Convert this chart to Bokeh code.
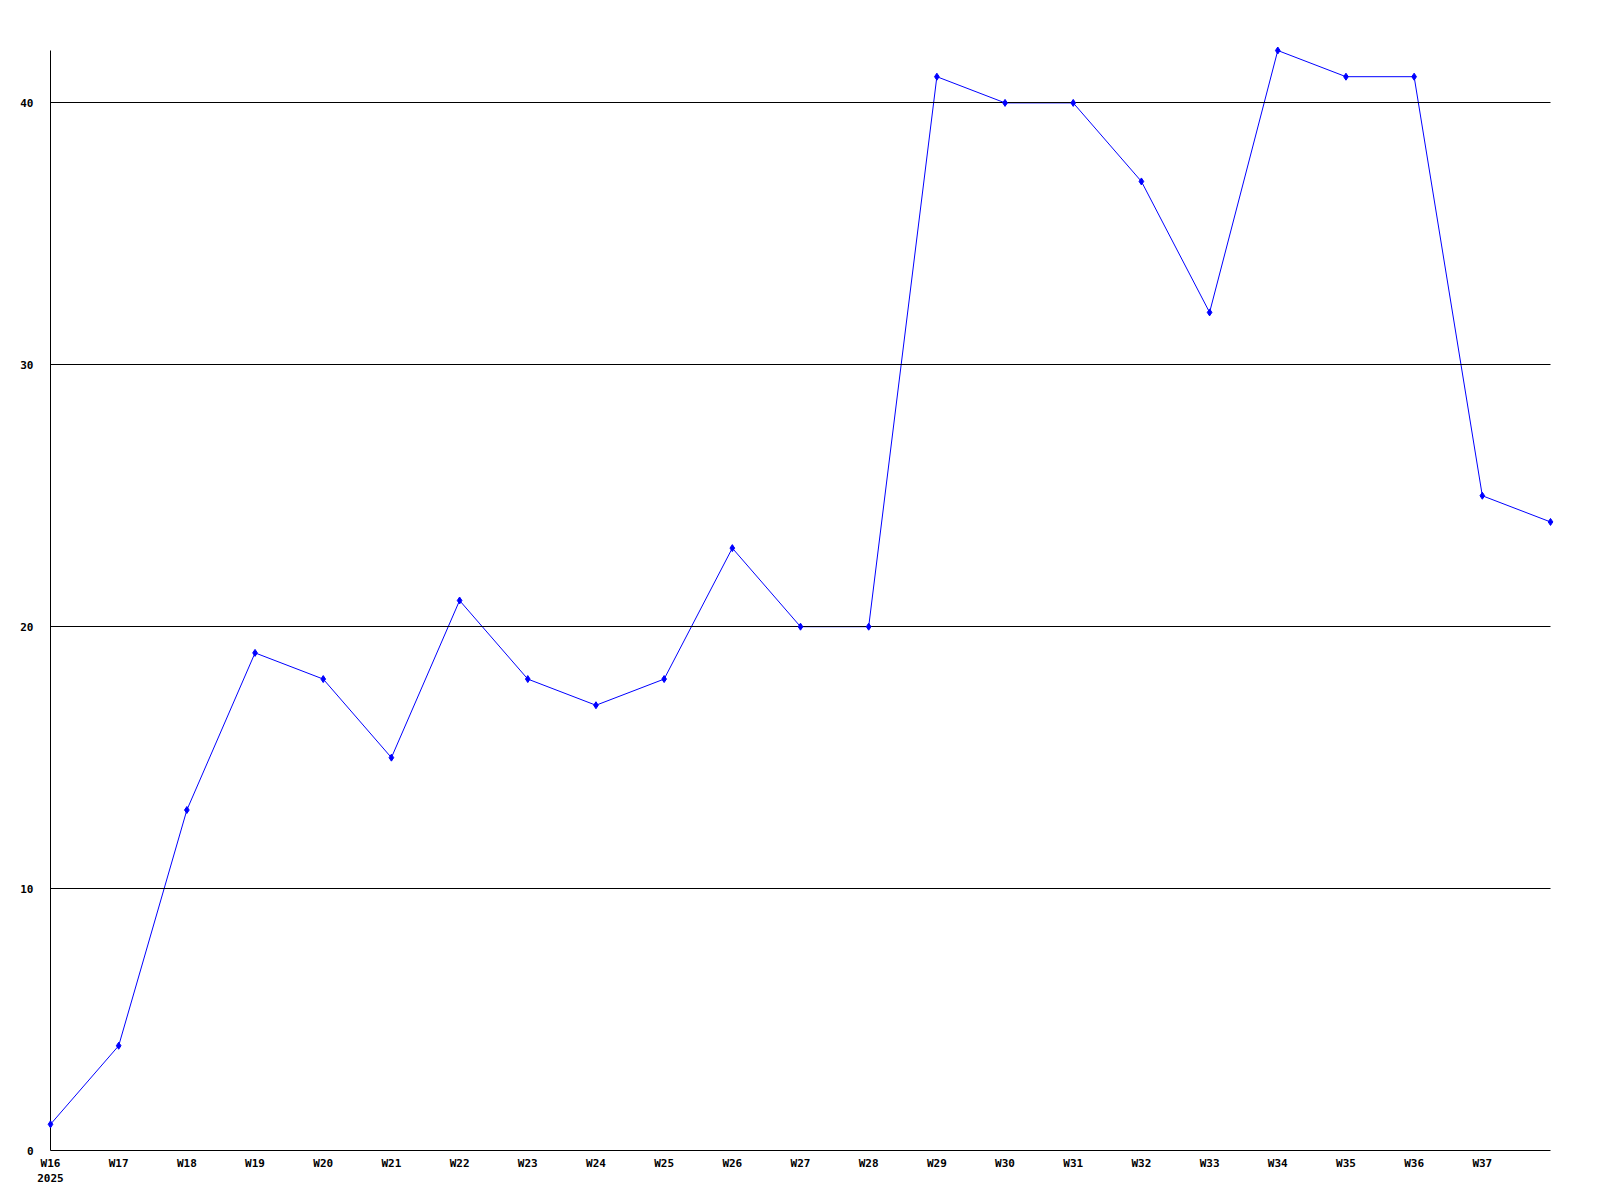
from bokeh.plotting import figure
from bokeh.models import FixedTicker, Range1d
from bokeh.embed import file_html
from bokeh.resources import INLINE

weeks = [16, 17, 18, 19, 20, 21, 22, 23, 24, 25, 26, 27, 28, 29, 30, 31, 32, 33, 34, 35, 36, 37, 38]
values = [1, 4, 13, 19, 18, 15, 21, 18, 17, 18, 23, 20, 20, 41, 40, 40, 37, 32, 42, 41, 41, 25, 24]
x_ticks = [16, 17, 18, 19, 20, 21, 22, 23, 24, 25, 26, 27, 28, 29, 30, 31, 32, 33, 34, 35, 36, 37]
x_tick_labels = ["W16\n2025", "W17", "W18", "W19", "W20", "W21", "W22", "W23", "W24", "W25", "W26",
                 "W27", "W28", "W29", "W30", "W31", "W32", "W33", "W34", "W35", "W36", "W37"]
y_ticks = [0, 10, 20, 30, 40]

p = figure(width=1584, height=1192, output_backend="svg", toolbar_location=None,
           x_range=Range1d(16, 38), y_range=Range1d(0, 42),
           min_border_left=50, min_border_right=34, min_border_top=50, min_border_bottom=42)
p.outline_line_color = None
p.background_fill_color = "white"
p.border_fill_color = "white"

p.line(weeks, values, line_color="#0000ff", line_width=1)
r = p.scatter(weeks, values, marker="diamond", size=7, fill_color="#0000ff", line_color="#0000ff")
r.level = "overlay"

p.xgrid.visible = False
p.ygrid.grid_line_color = "black"
p.ygrid.grid_line_width = 1
p.ygrid.grid_line_alpha = 1
p.ygrid.level = "annotation"
p.ygrid.ticker = FixedTicker(ticks=y_ticks)

for ax in (p.xaxis[0], p.yaxis[0]):
    ax.axis_line_color = "black"
    ax.axis_line_width = 1
    ax.major_tick_line_color = None
    ax.minor_tick_line_color = None
    ax.major_tick_out = 0
    ax.major_tick_in = 0
    ax.minor_tick_out = 0
    ax.major_label_text_font = "DejaVu Sans Mono"
    ax.major_label_text_font_style = "bold"
    ax.major_label_text_font_size = "11px"
    ax.major_label_text_color = "black"

p.xaxis.ticker = FixedTicker(ticks=x_ticks)
p.xaxis.major_label_overrides = {t: l for t, l in zip(x_ticks, x_tick_labels)}
p.xaxis.major_label_standoff = 6
p.yaxis.ticker = FixedTicker(ticks=y_ticks)
p.yaxis.major_label_standoff = 17

open("out.html", "w").write(file_html(p, INLINE))
